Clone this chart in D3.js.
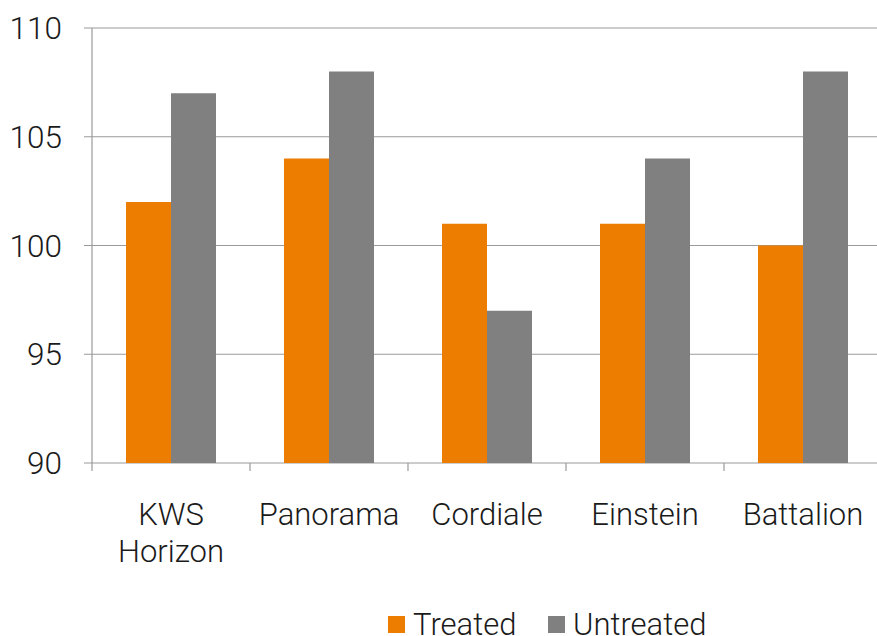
<!DOCTYPE html>
<html lang="en">
<head>
<meta charset="UTF-8">
<title>Treated vs Untreated</title>
<style>
  body { margin: 0; background: #fff; }
  text { font-family: Roboto, "Liberation Sans", sans-serif; font-weight: 300; fill: #1a1a1a; }
</style>
</head>
<body>
<div id="wrapper"></div>
<script src="https://d3js.org/d3.v7.min.js"></script>
<script>
  // data
  const categories = [["KWS", "Horizon"], ["Panorama"], ["Cordiale"], ["Einstein"], ["Battalion"]];
  const seriesNames = ["Treated", "Untreated"];
  const treated = [102, 104, 101, 101, 100];
  const untreated = [107, 108, 97, 104, 108];
  const yTicks = [90, 95, 100, 105, 110];
  const colors = ["#ED7D00", "#808080"];

  const width = 877, height = 636;
  const margin = { left: 92, right: 877 - 882, top: 28, bottom: 636 - 463 };
  const chartW = width - margin.left - margin.right;
  const chartH = height - margin.top - margin.bottom;

  const svg = d3.select('#wrapper').append('svg')
    .attr('width', width).attr('height', height);

  const g = svg.append('g').attr('transform', `translate(${margin.left},${margin.top})`);

  const x = d3.scaleBand().domain(d3.range(categories.length)).range([0, chartW]).paddingInner(0).paddingOuter(0);
  const inner = d3.scaleBand().domain(seriesNames).range([34, x.bandwidth() - 34]);
  const y = d3.scaleLinear().domain([90, 110]).range([chartH, 0]);

  // gridlines
  g.append('g').selectAll('line').data(yTicks).join('line')
    .attr('x1', -8).attr('x2', chartW)
    .attr('y1', d => y(d)).attr('y2', d => y(d))
    .attr('stroke', '#9a9a9a').attr('stroke-width', 1.2);

  // bars
  const rows = categories.map((c, i) => ({ i, vals: [treated[i], untreated[i]] }));
  const grp = g.append('g').selectAll('g').data(rows).join('g')
    .attr('transform', d => `translate(${x(d.i)},0)`);
  grp.selectAll('rect').data(d => d.vals.map((v, k) => ({ v, k }))).join('rect')
    .attr('x', d => inner(seriesNames[d.k]))
    .attr('width', inner.bandwidth())
    .attr('y', d => y(d.v))
    .attr('height', d => y(90) - y(d.v))
    .attr('fill', d => colors[d.k]);

  // y axis line
  g.append('line').attr('x1', 0).attr('x2', 0).attr('y1', 0).attr('y2', chartH)
    .attr('stroke', '#9a9a9a').attr('stroke-width', 1.2);

  // x axis ticks at category boundaries
  const bounds = d3.range(categories.length + 1).map(i => i * x.step());
  g.append('g').selectAll('line').data(bounds).join('line')
    .attr('x1', d => d).attr('x2', d => d)
    .attr('y1', chartH).attr('y2', chartH + 8)
    .attr('stroke', '#9a9a9a').attr('stroke-width', 1.2);

  // y tick labels
  g.append('g').selectAll('text').data(yTicks).join('text')
    .attr('x', -30).attr('y', d => y(d) + 11)
    .attr('text-anchor', 'end').style('font-size', '31.5px')
    .text(d => d);

  // category labels
  const lab = g.append('g').selectAll('text').data(categories).join('text')
    .attr('text-anchor', 'middle').style('font-size', '31px')
    .attr('transform', (d, i) => `translate(${x(i) + x.bandwidth() / 2},${chartH + 62})`);
  lab.selectAll('tspan').data(d => d).join('tspan')
    .attr('x', 0).attr('dy', (d, j) => j === 0 ? 0 : 37)
    .text(d => d);

  // legend
  const legendX = [388, 548];
  const leg = svg.append('g').selectAll('g').data(seriesNames).join('g')
    .attr('transform', (d, i) => `translate(${legendX[i]},616)`);
  leg.append('rect').attr('width', 17).attr('height', 17).attr('fill', (d, i) => colors[i]);
  leg.append('text').attr('x', 25).attr('y', 19).style('font-size', '31px').text(d => d);
</script>
</body>
</html>
